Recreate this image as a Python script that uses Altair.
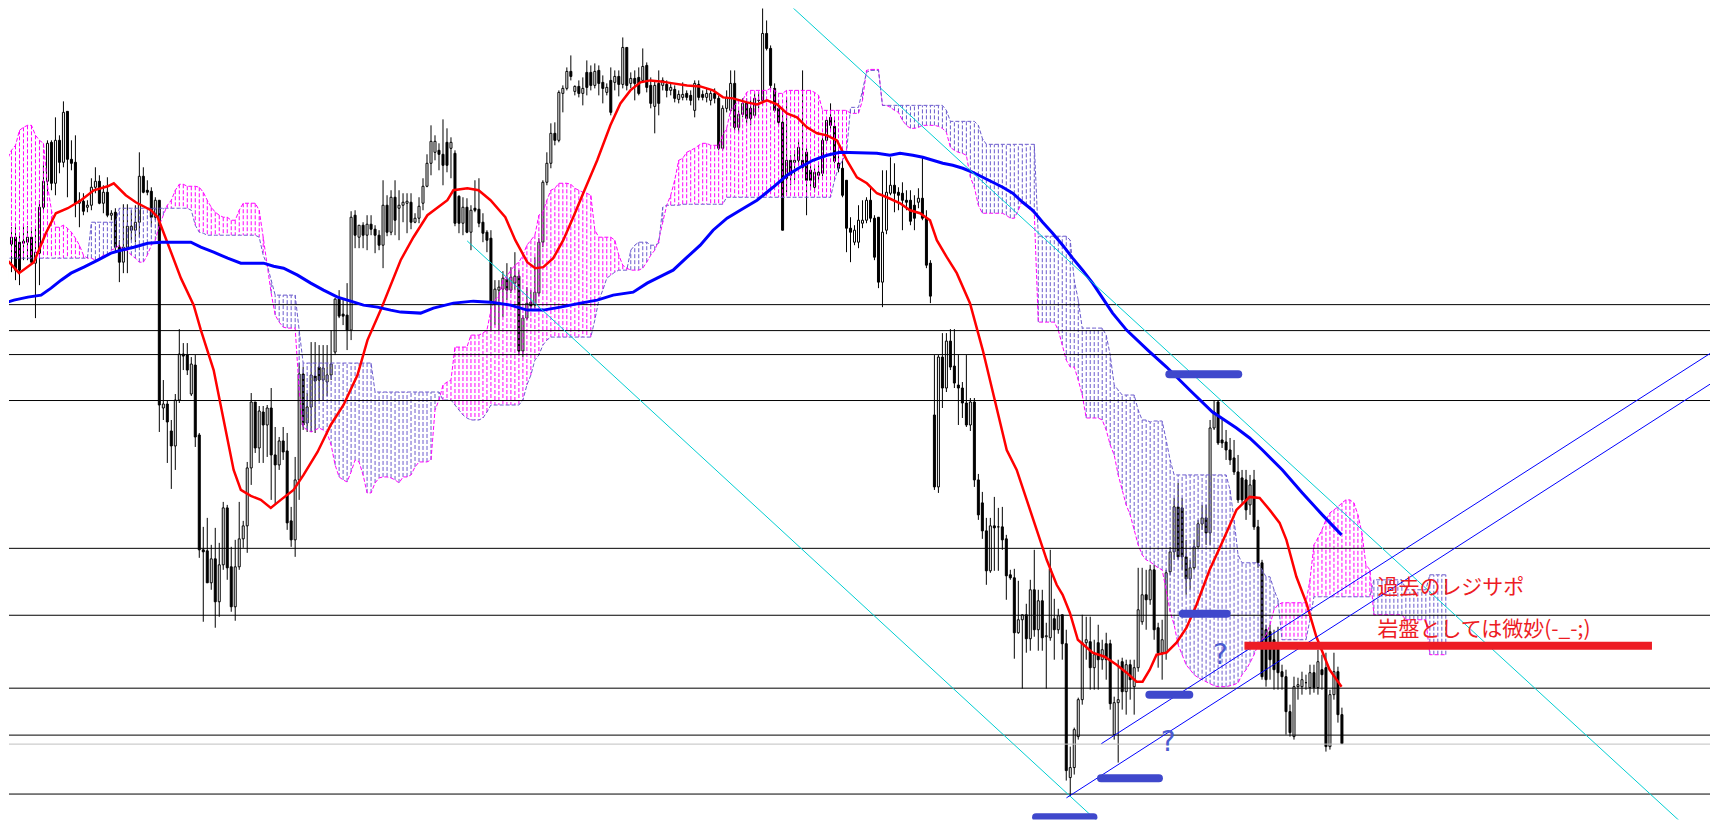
import altair as alt
import pandas as pd

# ---------------- candles (price in points, bar index 0..335) ----------------
open_v = [600,549,584,591,586,585,586,591,565,575,
621,647,686,645,688,666,717,669,666,625,
627,621,623,641,647,625,636,613,616,581,
566,581,598,598,606,652,638,637,611,628,
420,424,397,382,428,474,473,434,463,393,
278,277,245,269,226,263,320,261,221,261,
289,302,360,426,380,416,403,420,373,363,
387,377,307,288,348,454,405,421,452,461,
448,446,453,476,529,514,513,498,613,591,
603,593,604,599,593,583,623,596,631,620,
623,625,626,606,610,625,642,665,676,678,
674,686,680,675,632,605,621,596,620,619,
606,596,590,526,538,539,549,538,545,552,
477,510,526,523,535,586,646,665,695,688,
735,740,757,737,742,735,756,756,743,758,
746,736,748,746,752,744,781,745,750,751,
748,763,743,722,745,743,744,738,739,729,
731,735,733,718,744,734,731,728,735,730,
680,720,718,745,701,714,726,720,713,728,
728,795,780,740,720,706,650,668,666,668,
668,676,658,641,653,655,688,711,702,665,
660,648,600,586,586,605,608,628,610,611,
546,598,635,643,636,635,628,628,623,626,
630,610,565,413,341,471,440,487,462,443,
440,425,403,426,348,325,297,257,302,301,
301,289,253,250,195,208,213,189,238,198,
227,191,190,209,198,213,184,50,60,91,
128,185,186,160,185,168,184,184,93,125,
166,136,163,141,160,206,233,228,258,200,
175,175,256,276,321,320,271,249,260,281,
304,310,295,400,426,388,386,378,370,356,
350,348,323,348,301,265,198,196,188,185,
156,151,116,91,141,141,145,140,155,140,
158,160,81,133,156,113]

close_v = [549,584,591,558,558,587,591,566,576,621,
647,685,645,688,666,716,669,665,625,628,
617,623,641,647,625,636,613,615,581,566,
581,602,602,606,652,636,636,611,628,423,
424,406,382,428,474,472,458,464,391,278,
276,245,269,226,263,320,260,221,261,289,
302,360,426,380,417,403,420,373,363,387,
376,305,288,348,454,403,421,453,447,448,
460,453,464,529,512,512,498,611,593,603,
593,604,599,593,583,623,596,631,608,623,
626,627,606,610,622,642,665,687,687,674,
663,663,686,605,605,621,596,618,618,605,
595,588,526,539,541,550,538,551,552,477,
510,525,522,536,586,646,665,695,688,736,
740,757,752,742,735,740,741,743,757,745,
740,741,716,752,744,781,743,750,745,735,
762,741,725,743,725,748,738,741,730,734,
734,731,728,745,731,731,735,735,730,680,
720,731,745,701,714,725,710,710,730,728,
795,780,743,718,706,598,668,653,668,681,
661,648,648,656,656,688,708,703,667,660,
633,600,596,598,608,608,628,610,571,546,
596,636,643,635,633,628,626,607,610,630,
610,563,532,341,471,440,487,461,445,440,
425,403,426,348,313,297,257,302,300,301,
288,252,250,195,208,213,189,238,198,227,
190,192,259,198,212,184,57,60,98,128,
185,188,160,173,168,178,168,124,125,128,
136,163,148,160,218,233,228,258,198,175,
188,255,276,321,271,271,249,260,281,304,
310,295,400,416,385,385,378,368,356,328,
328,318,343,301,265,151,148,168,158,155,
151,116,95,141,143,148,145,155,140,166,
153,81,133,156,113,84]

high_v = [615,590,601,601,595,602,602,601,601,628,
663,688,688,711,693,727,717,688,693,636,
635,628,650,661,653,643,651,618,620,588,
624,624,618,623,676,661,648,641,631,628,
448,428,408,434,499,485,485,471,473,395,
301,310,283,300,285,326,323,281,288,326,
307,366,435,426,422,422,423,440,401,391,
401,395,321,371,465,461,435,486,486,483,
483,483,498,530,538,528,545,617,618,603,
606,613,613,603,598,648,633,638,648,638,
635,635,635,615,631,650,674,703,693,685,
709,700,691,678,633,631,630,623,648,650,
615,598,598,548,548,557,565,561,576,558,
513,541,538,571,590,648,676,705,706,738,
743,761,773,743,748,751,768,763,765,763,
753,745,761,758,758,791,781,756,758,761,
780,766,751,748,758,751,748,745,743,738,
746,738,738,748,748,738,740,738,740,733,
723,738,758,758,718,730,730,728,735,736,
828,808,783,745,728,720,731,673,678,688,
758,680,663,660,663,693,711,725,711,678,
668,648,611,603,623,628,631,641,613,611,
658,658,671,665,641,646,638,638,633,640,
671,618,568,473,473,495,495,499,499,473,
446,473,430,430,354,336,310,310,331,320,
321,293,258,259,247,213,224,248,278,238,
238,205,278,229,219,213,198,81,100,130,
213,211,211,188,203,188,195,188,131,168,
170,168,168,168,260,260,258,263,263,205,
208,258,281,330,345,330,288,268,288,308,
323,323,408,428,428,408,398,390,388,373,
358,358,353,358,308,268,203,203,198,201,
163,158,123,151,150,156,153,163,163,178,
173,175,138,175,161,120]

low_v = [535,538,556,548,543,568,568,565,510,543,
618,633,638,633,655,661,631,658,611,601,
613,616,618,635,624,615,611,608,576,546,
555,555,588,586,591,635,633,601,608,396,
408,365,339,358,425,458,453,432,381,270,
206,245,238,200,211,258,248,216,207,258,
280,275,343,375,365,365,371,328,324,358,
368,298,281,271,328,398,396,396,395,428,
428,432,448,473,510,503,478,488,580,580,
580,578,593,575,578,560,592,593,593,588,
606,595,599,605,605,618,641,653,668,658,
643,656,650,602,595,593,595,578,616,601,
586,576,498,503,498,511,528,535,538,473,
471,508,518,520,532,581,643,660,683,686,
716,738,748,733,731,723,733,738,740,733,
725,733,713,738,732,740,738,740,728,733,
746,736,720,695,713,738,731,733,726,725,
728,728,723,711,728,728,726,723,725,678,
678,716,716,698,696,711,705,703,711,720,
723,778,740,716,703,598,636,643,648,663,
658,613,638,636,648,652,685,698,665,656,
631,576,566,583,580,600,605,606,568,540,
521,594,633,616,618,598,618,603,598,620,
608,560,525,338,335,420,436,458,440,403,
410,401,397,341,308,289,243,255,257,257,
278,228,248,169,194,139,175,177,191,177,
177,139,187,168,194,168,47,31,53,88,
123,168,138,138,138,158,148,118,88,65,
118,113,128,113,156,203,198,223,188,160,
148,168,253,268,268,258,233,238,258,280,
298,283,283,398,383,380,368,363,353,325,
323,308,313,298,260,148,141,148,138,138,
138,93,91,88,128,133,138,133,135,133,
138,76,78,128,105,84]

# ---------------- Ichimoku cloud (senkou span A / B, 26 bars ahead) ----------------
span_a = [669,669,678,683,698,701,703,703,693,688,
685,643,618,601,601,603,600,596,590,583,
573,570,570,568,570,573,573,578,580,583,
578,578,573,570,566,566,573,583,588,603,
613,623,628,638,644,644,642,642,642,641,
636,628,621,616,613,611,611,608,608,618,
625,625,625,625,618,591,563,535,513,506,
501,500,500,500,438,401,398,396,398,400,
398,395,383,363,351,348,346,356,368,366,
353,335,335,345,350,351,351,350,348,345,
351,351,353,361,366,366,366,368,418,428,
443,446,448,481,481,481,481,493,493,493,
495,498,518,528,533,548,552,558,563,566,
573,583,588,593,613,616,628,638,640,645,
645,645,644,640,638,636,635,633,598,591,
591,591,591,588,573,563,560,558,558,558,
560,566,573,578,588,606,623,633,648,668,
670,676,678,680,683,685,685,683,683,683,
693,700,718,723,728,728,736,738,738,738,
738,738,740,738,735,735,738,738,738,738,
738,738,738,736,733,718,718,718,718,718,
718,718,715,715,715,728,758,759,759,759,
723,723,721,718,716,708,703,700,700,701,
703,703,703,703,702,700,696,681,678,676,
675,673,651,641,623,615,615,615,615,615,
615,613,610,610,618,628,623,618,615,506,
506,506,506,506,498,483,468,461,461,448,
433,410,410,410,410,408,398,383,373,353,
338,323,313,298,283,273,268,266,263,260,
258,238,216,203,183,173,163,158,153,150,
148,146,144,142,141,141,141,142,143,145,
153,158,165,173,183,188,193,203,218,223,
225,225,225,225,225,225,225,248,283,290,
298,308,315,318,321,325,328,328,325,313,
295,263,258,213,213,213,213,213,213,213,
213,208,208,208,208,208,208,173,173,173,
173,173]

span_b = [570,570,570,570,570,570,570,570,570,570,
570,570,570,570,570,570,570,570,570,570,
570,570,606,606,606,606,606,606,606,620,
620,620,620,620,620,620,620,620,620,620,
620,620,620,620,620,620,620,618,603,596,
595,593,593,593,593,593,593,593,593,593,
593,593,593,593,591,573,563,548,533,533,
533,533,533,533,498,465,465,465,465,465,
465,465,465,465,465,465,465,465,465,465,
465,465,465,436,436,436,436,436,436,436,
436,436,436,436,436,436,436,436,436,436,
428,428,428,423,418,413,410,408,408,408,
410,416,423,423,423,423,423,423,423,423,
428,443,453,468,473,483,488,491,491,491,
491,491,491,491,491,491,491,491,508,528,
538,550,553,556,558,558,558,578,583,586,
586,586,583,583,585,621,623,623,623,623,
624,624,624,624,624,624,624,624,624,624,
624,631,631,631,631,631,631,631,631,631,
631,631,631,631,631,631,631,631,631,631,
631,631,631,631,631,631,631,631,648,661,
668,675,721,721,721,738,756,758,758,758,
723,723,723,723,723,723,723,723,723,723,
723,723,723,723,723,723,718,707,707,707,
707,707,707,707,703,690,684,684,684,684,
684,684,684,684,684,684,684,684,684,592,
592,592,592,592,592,592,592,588,548,528,
500,500,500,500,500,500,493,473,443,438,
433,433,433,433,418,408,408,406,407,407,
407,388,368,353,353,353,353,353,353,353,
353,353,353,353,353,353,353,338,308,273,
265,265,265,265,265,258,251,251,238,228,
188,188,188,188,188,188,188,208,231,231,
231,231,231,231,231,231,231,231,231,231,
231,231,231,248,248,248,248,248,248,248,
248,238,238,238,238,238,238,253,253,253,
253,253]

# ---------------- moving averages (bar index, value) ----------------
red_i = [-0.6,3.9,7.6,10.6,13.1,16.1,19.4,22.6,26.1,27.6,30.6,33.1,36.9,38.6,40.6,44.4,47.6,49.4,52.6,55.1,
57.6,59.4,61.9,64.4,66.9,69.4,72.6,75.1,78.6,81.9,85.1,88.6,91.1,94.4,99.4,102.6,106.1,111.1,112.6,116.1,
118.9,121.9,125.6,128.1,131.1,133.1,135.1,137.6,140.1,142.6,145.1,148.6,151.9,154.4,156.9,159.4,161.9,164.4,167.6,171.1,
174.4,177.6,180.1,182.6,186.1,188.6,191.1,193.6,196.1,198.6,201.1,203.6,206.1,208.6,211.1,213.6,216.1,218.6,221.1,224.4,
226.9,229.4,231.9,233.6,236.1,238.6,241.9,245.1,248.1,251.1,253.6,256.1,258.6,261.1,263.6,265.1,266.9,268.9,272.6,275.6,
278.6,281.1,283.6,285.1,286.9,288.6,291.1,293.6,296.1,298.6,301.9,305.1,308.6,311.9,314.4,316.9,319.4,321.1,323.6,326.1,
328.6,331.9,334.9]
red_v = [575,555,566,595,615,620,628,638,642,645,633,626,618,611,590,550,523,498,458,408,
358,338,332,328,320,328,338,353,376,403,423,453,488,518,568,591,613,628,638,640,
638,628,611,588,566,560,561,570,588,611,635,668,703,725,738,746,748,747,745,743,
742,738,731,730,726,724,728,724,715,711,701,695,693,688,668,651,645,635,631,625,
618,615,608,588,571,555,525,478,428,378,358,328,298,268,243,233,215,188,175,171,
163,155,146,146,158,173,175,185,200,223,258,286,318,331,330,318,305,288,251,225,
191,158,141]

blue_i = [-0.6,2.6,6.1,9.4,11.9,14.4,16.9,20.1,23.6,26.9,29.4,32.6,36.1,39.4,42.6,46.9,49.4,52.6,56.1,59.4,
65.1,67.6,70.1,73.6,76.9,80.1,83.6,86.9,90.1,93.6,96.9,99.4,104.4,107.6,112.6,117.6,121.9,126.9,131.1,135.1,
139.4,144.4,148.6,152.6,157.6,161.1,165.1,167.6,171.1,174.4,177.6,181.1,184.4,188.6,192.6,196.1,199.4,202.6,206.1,209.4,
218.6,221.9,224.4,227.6,230.1,232.6,235.1,237.6,240.1,242.6,245.1,247.6,250.1,252.6,255.1,257.6,260.1,262.6,265.1,267.6,
270.1,272.6,275.1,277.6,281.1,286.4,291.1,296.9,302.6,308.6,311.9,315.1,320.1,325.1,330.1,334.9]
blue_v = [524,528,531,533,540,548,555,561,568,575,578,581,585,586,586,586,581,576,570,565,
565,562,560,553,545,538,531,527,523,521,518,516,515,520,525,527,526,523,518,518,
521,525,528,533,536,545,553,558,571,583,598,610,618,628,641,653,661,668,673,676,
675,673,675,673,671,668,665,663,660,656,651,646,641,635,626,618,606,595,583,570,
558,545,530,515,498,478,461,438,416,400,390,378,358,335,313,293]

# ---------------- drawn objects ----------------
level_lines = [523.5, 497.5, 473.5, 427.5, 279.5, 212.5, 139.5, 92.5, 33.5]
gray_line = [83.5]

cyan_x1 = [116.05, 195.6]
cyan_y1 = [587.3, 828.0]
cyan_x2 = [281.45, 421.3]
cyan_y2 = [-22.0, 0.0]

chan_x1 = [274.8, 266.05]
chan_y1 = [84.0, 29.7]
chan_x2 = [439.4, 439.4]
chan_y2 = [506.0, 475.4]

mark_x1 = [291.8, 295.15, 286.8, 274.7, 258.45]
mark_x2 = [309.05, 306.15, 296.8, 289.2, 272.8]
mark_y = [453.7, 214.0, 133.0, 49.3, 10.3]

red_bar_x1 = [310.6]
red_bar_x2 = [412.6]
red_bar_y = [182.0]

q_x = [304.6, 291.5]
q_y = [172.0, 85.0]
q_txt = ["?", "?"]

note_x = [343.9, 343.9]
note_y = [240.0, 198.0]
note_txt = ["過去のレジサポ", "岩盤としては微妙(-_-;)"]

# ---------------- tables ----------------
n = len(open_v)
candles = pd.DataFrame({"i": list(range(n)), "o": open_v, "h": high_v, "l": low_v, "c": close_v})
candles["top"] = candles[["h", "o", "c"]].max(axis=1)
candles["bot"] = candles[["l", "o", "c"]].min(axis=1)
candles["x1"] = candles["i"] - 0.25
candles["x2"] = candles["i"] + 0.25

cloud = pd.DataFrame({"i": list(range(len(span_a))), "a": span_a, "b": span_b})
red_df = pd.DataFrame({"i": red_i, "v": red_v})
blue_df = pd.DataFrame({"i": blue_i, "v": blue_v})
lev_df = pd.DataFrame({"v": level_lines})
gray_df = pd.DataFrame({"v": gray_line})
cyan_df = pd.DataFrame({"x": cyan_x1, "y": cyan_y1, "x2": cyan_x2, "y2": cyan_y2})
chan_df = pd.DataFrame({"x": chan_x1, "y": chan_y1, "x2": chan_x2, "y2": chan_y2})
mark_df = pd.DataFrame({"x": mark_x1, "x2": mark_x2, "y": mark_y})
redbar_df = pd.DataFrame({"x": red_bar_x1, "x2": red_bar_x2, "y": red_bar_y})
q_df = pd.DataFrame({"x": q_x, "y": q_y, "t": q_txt})
note_df = pd.DataFrame({"x": note_x, "y": note_y, "t": note_txt})

XS = alt.Scale(domain=[1.375, 427.125], nice=False, zero=False)
YS = alt.Scale(domain=[8, 820], nice=False, zero=False)


def X(f):
    return alt.X(f, type="quantitative", scale=XS, axis=None)


def Y(f):
    return alt.Y(f, type="quantitative", scale=YS, axis=None)


wicks = alt.Chart(candles).mark_rule(color="black", strokeWidth=1, clip=True).encode(
    x=X("i"), y=Y("bot"), y2="top")
bodies = alt.Chart(candles).mark_rect(stroke="black", strokeWidth=1, clip=True).encode(
    x=X("x1"), x2="x2", y=Y("o"), y2="c",
    fill=alt.condition("datum.c > datum.o", alt.value("white"), alt.value("black")))

hatch = alt.Chart(cloud).mark_rule(strokeWidth=1, strokeDash=[4, 2], clip=True).encode(
    x=X("i"), y=Y("a"), y2="b",
    color=alt.condition("datum.a >= datum.b", alt.value("#FF00FF"), alt.value("#6A5ACD")))
line_a = alt.Chart(cloud).mark_line(color="#FF00FF", strokeWidth=1, strokeDash=[4, 2], clip=True).encode(
    x=X("i"), y=Y("a"))
line_b = alt.Chart(cloud).mark_line(color="#6A5ACD", strokeWidth=1, strokeDash=[4, 2], clip=True).encode(
    x=X("i"), y=Y("b"))

ma_red = alt.Chart(red_df).mark_line(color="#FF0000", strokeWidth=2.5, clip=True).encode(
    x=X("i"), y=Y("v"))
ma_blue = alt.Chart(blue_df).mark_line(color="#0000FF", strokeWidth=3, clip=True).encode(
    x=X("i"), y=Y("v"))

levels = alt.Chart(lev_df).mark_rule(color="black", strokeWidth=1).encode(y=Y("v"))
gray = alt.Chart(gray_df).mark_rule(color="#C0C0C0", strokeWidth=1).encode(y=Y("v"))

cyan = alt.Chart(cyan_df).mark_rule(color="#00CED1", strokeWidth=1, clip=True).encode(
    x=X("x"), y=Y("y"), x2="x2", y2="y2")
chan = alt.Chart(chan_df).mark_rule(color="#0000FF", strokeWidth=1, clip=True).encode(
    x=X("x"), y=Y("y"), x2="x2", y2="y2")

marks = alt.Chart(mark_df).mark_rule(color="#3F48CC", strokeWidth=8, strokeCap="round", clip=True).encode(
    x=X("x"), x2="x2", y=Y("y"))
redbar = alt.Chart(redbar_df).mark_rule(color="#ED1C24", strokeWidth=8, clip=True).encode(
    x=X("x"), x2="x2", y=Y("y"))

qmarks = alt.Chart(q_df).mark_text(color="#4B5BD0", fontSize=28, font="DejaVu Sans",
                                   align="center", baseline="middle").encode(
    x=X("x"), y=Y("y"), text="t:N")
notes = alt.Chart(note_df).mark_text(color="#ED1C24", fontSize=21, font="Noto Sans CJK JP",
                                     align="left", baseline="middle").encode(
    x=X("x"), y=Y("y"), text="t:N")

chart = alt.layer(
    wicks, bodies, hatch, line_a, line_b, levels, gray, ma_red, ma_blue,
    cyan, chan, marks, redbar, qmarks, notes
).properties(width=1703, height=812, padding=0, background="white").configure_view(stroke=None)

chart.save("out.html", embed_options={"renderer": "svg", "actions": False})
